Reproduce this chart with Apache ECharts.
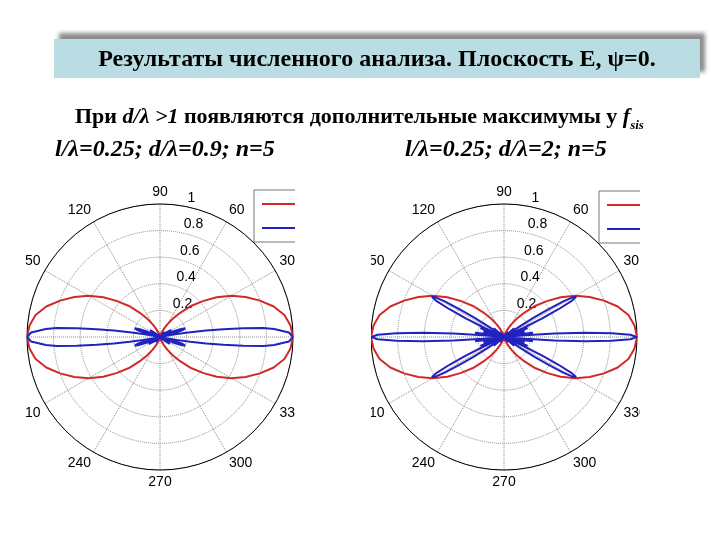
<!DOCTYPE html>
<html><head><meta charset="utf-8">
<script src="https://cdn.jsdelivr.net/npm/echarts@6/dist/echarts.min.js"></script>
<style>html,body{margin:0;padding:0;background:#fff}#c{width:720px;height:540px}</style>
</head><body><div id="c"></div>
<script>
// ---- data ----
const titleText = 'Результаты численного анализа. Плоскость Е, ψ=0.';
const leftCaption = 'l/λ=0.25; d/λ=0.9; n=5';
const rightCaption = 'l/λ=0.25; d/λ=2; n=5';

const angleTickInterval = 30;
const radiusTickInterval = 0.2;

// element pattern (red), same on both plots
const redAngles = [0,5,10,15,20,25,30,35,40,45,50,55,60,65,70,75,80,85,90,95,100,105,110,115,120,125,130,135,140,145,150,155,160,165,170,175,180,185,190,195,200,205,210,215,220,225,230,235,240,245,250,255,260,265,270,275,280,285,290,295,300,305,310,315,320,325,330,335,340,345,350,355,360];
const redValues = [1.00,0.985,0.95,0.885,0.80,0.71,0.62,0.52,0.42,0.33,0.24,0.17,0.11,0.065,0.035,0.015,0.006,0.001,0,
 0.001,0.006,0.015,0.035,0.065,0.11,0.17,0.24,0.33,0.42,0.52,0.62,0.71,0.80,0.885,0.95,0.985,1.00,
 0.985,0.95,0.885,0.80,0.71,0.62,0.52,0.42,0.33,0.24,0.17,0.11,0.065,0.035,0.015,0.006,0.001,0,
 0.001,0.006,0.015,0.035,0.065,0.11,0.17,0.24,0.33,0.42,0.52,0.62,0.71,0.80,0.885,0.95,0.985,1.00];

// system pattern (blue), d/λ = 0.9
const blueLeftAngles = [0,2,4,5,6,7,8,9,10,11,12,13,15,17,19,21,23,25,27,29,32,35,38,42,46,51,56,63,70,80,90,
 100,110,117,124,129,134,138,142,145,148,151,153,155,157,159,161,163,165,167,168,169,170,171,172,173,174,175,176,178,180,
 182,184,185,186,187,188,189,190,191,192,193,195,197,199,201,203,205,207,209,212,215,218,222,226,231,236,243,250,260,270,
 280,290,297,304,309,314,318,322,325,328,331,333,335,337,339,341,343,345,347,348,349,350,351,352,353,354,355,356,358,360];
const blueLeftValues = [1.00,0.97,0.86,0.78,0.63,0.48,0.35,0.23,0.13,0.06,0.02,0.00,0.10,0.18,0.20,0.17,0.10,0.03,0.00,0.06,0.10,0.09,0.05,0.00,0.03,0.05,0.03,0.00,0.01,0.01,0.00,
 0.01,0.01,0.00,0.03,0.05,0.03,0.00,0.05,0.09,0.10,0.06,0.00,0.03,0.10,0.17,0.20,0.18,0.10,0.00,0.02,0.06,0.13,0.23,0.35,0.48,0.63,0.78,0.86,0.97,1.00,
 0.97,0.86,0.78,0.63,0.48,0.35,0.23,0.13,0.06,0.02,0.00,0.10,0.18,0.20,0.17,0.10,0.03,0.00,0.06,0.10,0.09,0.05,0.00,0.03,0.05,0.03,0.00,0.01,0.01,0.00,
 0.01,0.01,0.00,0.03,0.05,0.03,0.00,0.05,0.09,0.10,0.06,0.00,0.03,0.10,0.17,0.20,0.18,0.10,0.00,0.02,0.06,0.13,0.23,0.35,0.48,0.63,0.78,0.86,0.97,1.00];

// system pattern (blue), d/λ = 2
const blueRightAngles = [0,1,2,3,4,5,6,7,8.5,10,11.5,13,14.5,16,17.5,19,20.5,22,23.5,25,26,27,28,29,30,31,32,33,34,35,36.5,38,40.5,44.5,48.5,53,58,64,72,80,90,
 100,108,116,122,127,131.5,135.5,139.5,142,143.5,145,146,147,148,149,150,151,152,153,154,155,156.5,158,159.5,161,162.5,164,165.5,167,168.5,170,171.5,173,174,175,176,177,178,179,180,
 181,182,183,184,185,186,187,188.5,190,191.5,193,194.5,196,197.5,199,200.5,202,203.5,205,206,207,208,209,210,211,212,213,214,215,216.5,218,220.5,224.5,228.5,233,238,244,252,260,270,
 280,288,296,302,307,311.5,315.5,319.5,322,323.5,325,326,327,328,329,330,331,332,333,334,335,336.5,338,339.5,341,342.5,344,345.5,347,348.5,350,351.5,353,354,355,356,357,358,359,360];
const blueRightValues = [1.00,0.95,0.81,0.61,0.38,0.16,0.00,0.10,0.22,0.12,0.00,0.10,0.16,0.08,0.00,0.12,0.19,0.12,0.00,0.16,0.32,0.46,0.57,0.62,0.60,0.52,0.40,0.27,0.15,0.06,0.00,0.06,0.10,0.00,0.05,0.00,0.03,0.00,0.005,0.002,0,
 0.002,0.005,0.00,0.03,0.00,0.05,0.00,0.10,0.06,0.00,0.06,0.15,0.27,0.40,0.52,0.60,0.62,0.57,0.46,0.32,0.16,0.00,0.12,0.19,0.12,0.00,0.08,0.16,0.10,0.00,0.12,0.22,0.10,0.00,0.16,0.38,0.61,0.81,0.95,1.00,
 0.95,0.81,0.61,0.38,0.16,0.00,0.10,0.22,0.12,0.00,0.10,0.16,0.08,0.00,0.12,0.19,0.12,0.00,0.16,0.32,0.46,0.57,0.62,0.60,0.52,0.40,0.27,0.15,0.06,0.00,0.06,0.10,0.00,0.05,0.00,0.03,0.00,0.005,0.002,0,
 0.002,0.005,0.00,0.03,0.00,0.05,0.00,0.10,0.06,0.00,0.06,0.15,0.27,0.40,0.52,0.60,0.62,0.57,0.46,0.32,0.16,0.00,0.12,0.19,0.12,0.00,0.08,0.16,0.10,0.00,0.12,0.22,0.10,0.00,0.16,0.38,0.61,0.81,0.95,1.00];

// ---- build ----
const RED = '#d02a2a', BLUE = '#2222c0';
const SERIF = '"Liberation Serif", "Times New Roman", serif';
const SANS = '"Liberation Sans", Arial, sans-serif';
const pairs = (vals, angs) => vals.map((v, i) => [v, angs[i]]);

const centers = [[160, 337], [504, 337]];
const R = 133;

const polar = [], angleAxis = [], radiusAxis = [];
centers.forEach((c, k) => {
  const main = 2 * k, over = 2 * k + 1;
  polar.push({ center: c, radius: R });
  polar.push({ center: c, radius: R });
  angleAxis.push({
    polarIndex: main, type: 'value', min: 0, max: 360, interval: angleTickInterval,
    startAngle: 0, clockwise: false,
    axisLine: { lineStyle: { color: '#000', width: 1 } },
    axisTick: { show: false },
    axisLabel: { margin: 5, color: '#000', fontSize: 14, fontFamily: SANS },
    splitLine: { lineStyle: { type: 'dotted', color: '#888', width: 1 } }
  });
  angleAxis.push({ polarIndex: over, type: 'value', min: 0, max: 360, startAngle: 82, clockwise: false, show: false });
  radiusAxis.push({
    polarIndex: main, type: 'value', min: 0, max: 1, interval: radiusTickInterval,
    axisLine: { show: false }, axisTick: { show: false }, axisLabel: { show: false },
    splitLine: { lineStyle: { type: 'dotted', color: '#888', width: 1 } }
  });
  radiusAxis.push({
    polarIndex: over, type: 'value', min: 0, max: 1, interval: radiusTickInterval,
    axisLine: { show: false }, axisTick: { show: false }, splitLine: { show: false },
    axisLabel: { showMinLabel: false, margin: 0, align: 'left', verticalAlign: 'bottom',
      padding: [0, 0, 0, 9], color: '#000', fontSize: 14, fontFamily: SANS }
  });
});

const mkSeries = (name, pi, vals, angs, color, w) => ({
  name, type: 'line', coordinateSystem: 'polar', polarIndex: pi,
  data: pairs(vals, angs), showSymbol: false, symbol: 'none', color,
  lineStyle: { color, width: w }, z: 3
});

const series = [
  mkSeries('fel1', 0, redValues, redAngles, RED, 2),
  mkSeries('fsis1', 0, blueLeftValues, blueLeftAngles, BLUE, 2),
  mkSeries('fel2', 2, redValues, redAngles, RED, 2),
  mkSeries('fsis2', 2, blueRightValues, blueRightAngles, BLUE, 2)
];

const legendBase = {
  orient: 'vertical', icon: 'rect', itemWidth: 40, itemHeight: 2, itemGap: 10,
  padding: [7, 8, 7, 8], borderColor: '#777', borderWidth: 1, backgroundColor: '#fff',
  formatter: () => ' ', textStyle: { fontSize: 12, lineHeight: 14 }, selectedMode: false, z: 10
};

const cover = (x, w) => ({ type: 'rect', shape: { x, y: 172, width: w, height: 340 }, style: { fill: '#fff' }, z: 100, silent: true });

const option = {
  animation: false,
  backgroundColor: '#fff',
  polar, angleAxis, radiusAxis, series,
  legend: [
    Object.assign({}, legendBase, { data: ['fel1', 'fsis1'], left: 254, top: 190 }),
    Object.assign({}, legendBase, { data: ['fel2', 'fsis2'], left: 599, top: 191 })
  ],
  graphic: [
    { type: 'rect', shape: { x: 54, y: 39, width: 646, height: 39 }, z: 1,
      style: { fill: '#b9dde3', shadowBlur: 4, shadowColor: 'rgba(0,0,0,0.45)', shadowOffsetX: 5, shadowOffsetY: -6 } },
    { type: 'text', x: 377, y: 60, z: 2,
      style: { text: titleText, fontFamily: SERIF, fontWeight: 'bold', fontSize: 24, fill: '#000', align: 'center', verticalAlign: 'middle' } },
    { type: 'text', x: 75, y: 106, z: 2,
      style: {
        text: '{n|При }{i|d/λ >1}{n| появляются дополнительные максимумы у }{i|f}{s|sis}',
        fill: '#000', align: 'left', verticalAlign: 'top',
        rich: {
          n: { fontFamily: SERIF, fontWeight: 'bold', fontSize: 22, verticalAlign: 'top' },
          i: { fontFamily: SERIF, fontWeight: 'bold', fontStyle: 'italic', fontSize: 22, verticalAlign: 'top' },
          s: { fontFamily: SERIF, fontWeight: 'bold', fontStyle: 'italic', fontSize: 13, verticalAlign: 'top', padding: [13, 0, 0, 0] }
        }
      } },
    { type: 'text', x: 55, y: 150, z: 2,
      style: { text: leftCaption, fontFamily: SERIF, fontWeight: 'bold', fontStyle: 'italic', fontSize: 24, fill: '#000', align: 'left', verticalAlign: 'middle' } },
    { type: 'text', x: 405, y: 150, z: 2,
      style: { text: rightCaption, fontFamily: SERIF, fontWeight: 'bold', fontStyle: 'italic', fontSize: 24, fill: '#000', align: 'left', verticalAlign: 'middle' } },
    cover(0, 26), cover(295, 76), cover(640, 80)
  ]
};

const chart = echarts.init(document.getElementById('c'), null, { renderer: 'canvas' });
chart.setOption(option);
</script></body></html>
